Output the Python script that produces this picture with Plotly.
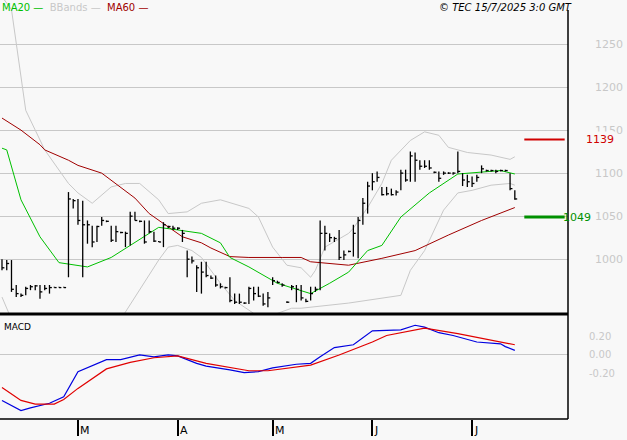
import plotly.graph_objects as go

# ---------------- data ----------------
highs = [1000,999,999,970,960,968,970,970,970,970,970,968,968,968,1078,1070,1070,1068,1045,1039,
         1039,1049,1045,1039,1039,1032,1032,1055,1055,1045,1045,1045,1032,1021,1043,1039,1039,1037,1034,1010,
         1003,993,997,997,981,981,972,968,979,960,960,950,968,968,968,960,962,979,975,972,
         951,970,970,970,954,968,968,1045,1039,1030,1026,1034,1010,1010,1040,1049,1071,1090,1100,1102,
         1084,1084,1082,1080,1104,1104,1125,1124,1115,1115,1115,1102,1102,1102,1101,1101,1125,1100,1098,1096,
         1098,1109,1104,1104,1104,1104,1104,1100,1080]
lows = [987,987,962,956,956,958,964,964,954,964,960,967,967,967,979,1059,1040,979,1018,1014,
        1020,1039,1043,1020,1020,1030,1014,1016,1045,1043,1018,1030,1020,1020,1014,1036,1034,1034,1020,979,
        995,962,960,979,977,968,966,966,950,948,948,948,948,952,956,946,944,970,972,968,
        949,964,950,952,950,952,962,964,1010,1020,1020,999,999,1008,1003,1001,1040,1053,1080,1090,
        1074,1074,1074,1074,1080,1090,1090,1090,1104,1106,1104,1100,1090,1098,1099,1098,1100,1085,1084,1084,
        1090,1100,1102,1102,1100,1102,1102,1080,1069]
closes = [990,995,965,960,958,966,968,969,962,966,967,967,967,967,1070,1068,1045,1040,1040,1020,
          1038,1045,1044,1022,1032,1031,1030,1050,1045,1044,1020,1032,1021,1020,1040,1038,1036,1036,1030,1000,
          998,990,985,981,978,970,968,967,952,950,950,949,966,960,957,948,955,975,973,970,
          950,968,965,955,951,960,965,1030,1030,1025,1024,1002,1005,1009,1030,1045,1065,1085,1090,1095,
          1075,1076,1075,1078,1100,1092,1120,1115,1108,1108,1106,1101,1094,1100,1100,1100,1102,1092,1090,1088,
          1095,1105,1103,1103,1102,1103,1103,1082,1070]

ma20_day = [0,1,4,8,12,18,23,28,33,37,42,46,48,52,58,65,69,73,77,80,84,90,96,105,108]
ma20_val = [1129,1127,1069,1026,996,991,1002,1019,1037,1034,1030,1019,1002,991,972,960,972,985,1010,1016,1049,1077,1099,1103,1099]

ma60_day = [0,4,8,9,14,16,21,24,28,31,35,38,42,44,48,52,59,63,65,69,73,80,87,94,101,108]
ma60_val = [1164,1150,1133,1127,1115,1109,1100,1088,1071,1053,1037,1026,1019,1013,1003,1002,1002,1002,997,995,993,1001,1010,1028,1045,1060]

bbu_day = [0,2,5,9,14,16,19,23,26,29,33,35,39,42,46,52,54,57,60,63,65,66,68,73,74,77,80,82,86,89,92,94,98,103,107,108]
bbu_val = [1305,1290,1173,1127,1088,1077,1065,1084,1088,1088,1069,1053,1055,1065,1069,1059,1049,1014,993,990,979,987,1014,1030,1036,1060,1088,1115,1138,1148,1144,1130,1124,1121,1116,1119]

bbl_day = [0,2,12,20,25,29,33,35,37,40,42,46,49,53,54,56,58,61,63,73,84,86,89,93,96,99,103,107,108]
bbl_val = [956,930,905,915,930,964,999,1014,1016,1010,1002,972,952,937,925,920,937,943,943,949,958,987,1010,1057,1077,1080,1086,1088,1086]

macd_day = [0,4,6,10,13,15,16,22,25,29,32,35,37,41,43,48,51,54,57,62,65,67,70,74,78,84,87,89,92,95,100,105,106,108]
macd_val = [-0.49,-0.60,-0.57,-0.52,-0.45,-0.27,-0.18,-0.05,-0.05,0.0,-0.02,0.0,-0.01,-0.09,-0.12,-0.16,-0.19,-0.18,-0.14,-0.10,-0.09,-0.02,0.08,0.11,0.26,0.27,0.32,0.30,0.24,0.21,0.14,0.12,0.09,0.05]
sig_day = [0,4,7,11,13,16,22,27,32,37,43,52,56,65,71,78,81,89,96,106,108]
sig_val = [-0.35,-0.49,-0.53,-0.53,-0.48,-0.36,-0.15,-0.08,-0.03,-0.01,-0.09,-0.17,-0.17,-0.11,0.0,0.14,0.21,0.29,0.23,0.13,0.11]

month_day = [16,37,57,78,99]
month_lbl = ["M","A","M","J","J"]
price_ticks = [1000,1050,1100,1150,1200,1250]
macd_ticks = [-0.2,0.0,0.2]
resist_level = 1139
support_level = 1049

# ---------------- figure ----------------
n = len(highs)
bx, by, cx, cy = [], [], [], []
for i in range(n):
    bx += [i, i, None]
    by += [lows[i], highs[i], None]
    cx += [i, i + 0.5, None]
    cy += [closes[i], closes[i], None]

fig = go.Figure()
fig.add_trace(go.Scatter(x=bbu_day, y=bbu_val, mode="lines", line=dict(color="#c8c8c8", width=1)))
fig.add_trace(go.Scatter(x=bbl_day, y=bbl_val, mode="lines", line=dict(color="#c8c8c8", width=1)))
fig.add_trace(go.Scatter(x=ma60_day, y=ma60_val, mode="lines", line=dict(color="#a00000", width=1)))
fig.add_trace(go.Scatter(x=ma20_day, y=ma20_val, mode="lines", line=dict(color="#00c000", width=1)))
fig.add_trace(go.Scatter(x=bx, y=by, mode="lines", line=dict(color="black", width=1.3)))
fig.add_trace(go.Scatter(x=cx, y=cy, mode="lines", line=dict(color="black", width=1.3)))
fig.add_trace(go.Scatter(x=[110, 118.5], y=[resist_level]*2, mode="lines", line=dict(color="#d00000", width=2)))
fig.add_trace(go.Scatter(x=[110, 118.5], y=[support_level]*2, mode="lines", line=dict(color="#009000", width=3)))
fig.add_trace(go.Scatter(x=macd_day, y=macd_val, mode="lines", line=dict(color="#0000e0", width=1.2), xaxis="x2", yaxis="y2"))
fig.add_trace(go.Scatter(x=sig_day, y=sig_val, mode="lines", line=dict(color="#e00000", width=1.2), xaxis="x2", yaxis="y2"))

xr = [-0.42, 119.2]
XD = 568 / 627
fig.update_layout(
    width=627, height=440, margin=dict(l=0, r=0, t=0, b=0, autoexpand=False),
    paper_bgcolor="#f8f8f8", plot_bgcolor="#f8f8f8", showlegend=False,
    font=dict(family="DejaVu Sans", size=10, color="#c8c8c8"),
    xaxis=dict(domain=[0, XD], range=xr, showgrid=False, zeroline=False, showticklabels=False, anchor="y", automargin=False),
    xaxis2=dict(domain=[0, XD], range=xr, showgrid=False, zeroline=False, anchor="y2", automargin=False,
                tickvals=month_day, ticktext=[""] * 5, ticks="outside", ticklen=16, tickcolor="black", tickwidth=1.5),
    yaxis=dict(domain=[1 - 314 / 440, 1], range=[936.3, 1301.2], side="right", anchor="x", automargin=False,
               tickvals=price_ticks, ticktext=[str(v) for v in price_ticks],
               showgrid=True, gridcolor="#c8c8c8", gridwidth=1, zeroline=False,
               ticklabelstandoff=26, tickfont=dict(size=11, color="#c8c8c8")),
    yaxis2=dict(domain=[1 - 419 / 440, 1 - 316 / 440], range=[-0.69, 0.42], side="right", anchor="x2", automargin=False,
                tickvals=macd_ticks, ticktext=["-0.20", "0.00", "0.20"], showgrid=False,
                zeroline=True, zerolinecolor="#c8c8c8", zerolinewidth=1,
                ticklabelstandoff=20, tickfont=dict(size=10, color="#c8c8c8")),
)

shapes = [
    dict(type="line", xref="paper", yref="paper", x0=0, x1=XD, y0=1 - 314 / 440, y1=1 - 314 / 440, line=dict(color="black", width=3)),
    dict(type="line", xref="paper", yref="paper", x0=XD, x1=XD, y0=1 - 419 / 440, y1=1 - 10 / 440, line=dict(color="black", width=1.5)),
    dict(type="line", xref="paper", yref="paper", x0=0, x1=XD, y0=1 - 419 / 440, y1=1 - 419 / 440, line=dict(color="black", width=1.5)),
]
fig.update_layout(shapes=shapes)

ann = []
for d, t in zip(month_day, month_lbl):
    ann.append(dict(x=d, y=0.0, xref="x2", yref="paper", text=t, showarrow=False, xanchor="left", yanchor="bottom",
                    xshift=0, yshift=1, font=dict(size=11, color="black")))
ann += [
    dict(x=0.0, y=1.0, xref="paper", yref="paper", xanchor="left", yanchor="top", showarrow=False,
         text="<span style='color:#00c000'>MA20 —</span>  <span style='color:#c8c8c8'>BBands —</span>  <span style='color:#a00000'>MA60 —</span>",
         font=dict(size=10)),
    dict(x=574 / 627, y=1.0, xref="paper", yref="paper", xanchor="right", yanchor="top", showarrow=False,
         text="<i>© TEC 15/7/2025 3:0 GMT</i>", font=dict(size=10, color="black")),
    dict(x=0.003, y=1 - 320 / 440, xref="paper", yref="paper", xanchor="left", yanchor="top", showarrow=False,
         text="MACD", font=dict(size=9, color="black")),
    dict(x=616 / 627, y=resist_level, xref="paper", yref="y", xanchor="right", showarrow=False,
         text=str(resist_level), font=dict(size=11, color="#d00000"), bgcolor="#f8f8f8"),
    dict(x=593 / 627, y=support_level, xref="paper", yref="y", xanchor="right", showarrow=False,
         text=str(support_level), font=dict(size=11, color="#009000")),
]
fig.update_layout(annotations=ann)
fig.write_html("out.html", config={"displayModeBar": False},
               post_script="document.body.style.margin='0';document.body.style.overflow='hidden';document.body.style.background='#f8f8f8';")
